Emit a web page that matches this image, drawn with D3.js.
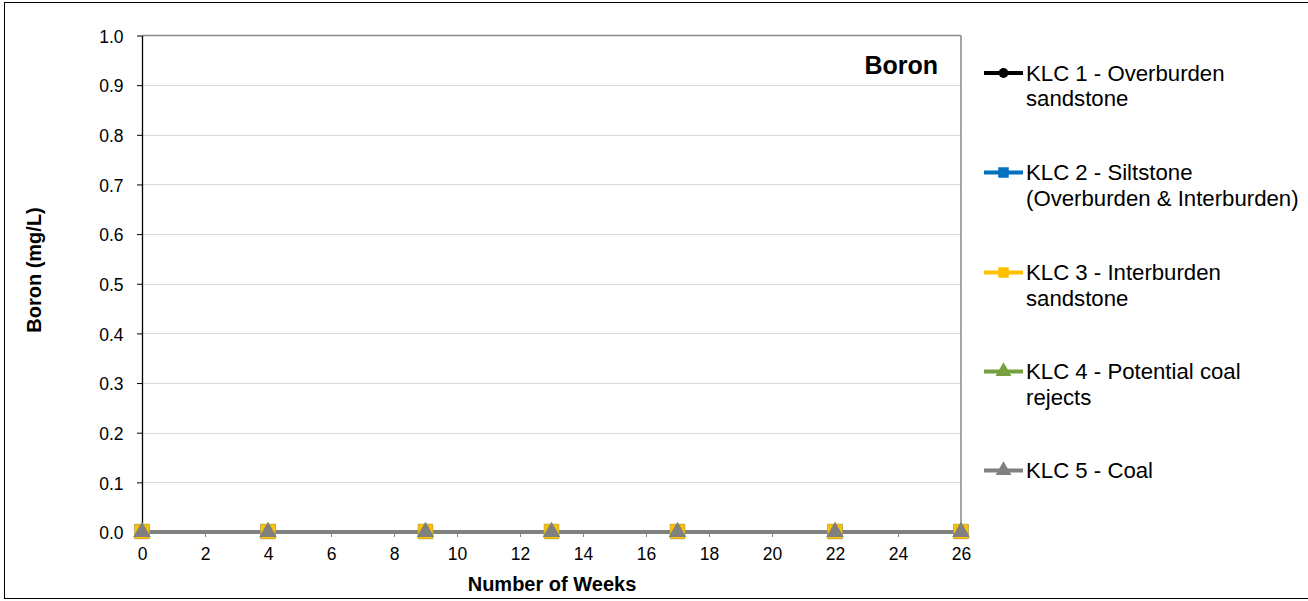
<!DOCTYPE html>
<html><head><meta charset="utf-8">
<script src="https://cdn.jsdelivr.net/npm/d3@7"></script>
<style>body{margin:0;background:#fff}svg{display:block;font-family:"Liberation Sans",Arial,sans-serif}</style>
</head><body><svg id="c" width="1308" height="601"></svg>
<script>
const weeks = [0, 4, 9, 13, 17, 22, 26];
const seriesNames = ["KLC 1 - Overburden sandstone","KLC 2 - Siltstone (Overburden & Interburden)","KLC 3 - Interburden sandstone","KLC 4 - Potential coal rejects","KLC 5 - Coal"];
const legendLines = [["KLC 1 - Overburden","sandstone"],["KLC 2 - Siltstone","(Overburden & Interburden)"],["KLC 3 - Interburden","sandstone"],["KLC 4 - Potential coal","rejects"],["KLC 5 - Coal"]];
const klc1 = [0, 0, 0, 0, 0, 0, 0];
const klc2 = [0, 0, 0, 0, 0, 0, 0];
const klc3 = [0, 0, 0, 0, 0, 0, 0];
const klc4 = [0, 0, 0, 0, 0, 0, 0];
const klc5 = [0, 0, 0, 0, 0, 0, 0];
const colors = ["#000000","#0070C0","#FFC000","#77A040","#808080"];
const markers = ["circle","square","square","triangle","triangle"];
const xTicks = [0,2,4,6,8,10,12,14,16,18,20,22,24,26];
const yTicks = [0,0.1,0.2,0.3,0.4,0.5,0.6,0.7,0.8,0.9,1.0];
const allSeries = [klc1,klc2,klc3,klc4,klc5];

const svg = d3.select("#c");
const L=142, R=961, T=35.5, B=532;
const x = d3.scaleLinear().domain([0,26]).range([L,R]);
const y = d3.scaleLinear().domain([0,1]).range([B,T]);

svg.append("rect").attr("x",4.5).attr("y",2.5).attr("width",1310).attr("height",596).attr("fill","none").attr("stroke","#000").attr("stroke-width",1);

// gridlines
svg.append("g").selectAll("line").data(yTicks.filter(d=>d>0&&d<1)).join("line")
  .attr("x1",L).attr("x2",R).attr("y1",d=>Math.round(y(d))+0.5).attr("y2",d=>Math.round(y(d))+0.5)
  .attr("stroke","#d9d9d9").attr("stroke-width",1);
// top & right border
svg.append("line").attr("x1",L).attr("x2",R).attr("y1",T).attr("y2",T).attr("stroke","#868686").attr("stroke-width",1.5);
svg.append("line").attr("x1",R).attr("x2",R).attr("y1",T).attr("y2",B).attr("stroke","#868686").attr("stroke-width",1.5);

// y axis
const ya = svg.append("g").attr("transform",`translate(${L},0)`)
  .call(d3.axisLeft(y).tickValues(yTicks).tickFormat(d3.format(".1f")).tickSize(5).tickSizeOuter(0));
ya.select(".domain").attr("stroke","#000").attr("stroke-width",1.3);
ya.selectAll(".tick line").attr("stroke","#000");
ya.selectAll("text").attr("font-size",17.5).attr("fill","#000").attr("x",-18.5).attr("dy","0.38em");

// x axis
const xa = svg.append("g").attr("transform",`translate(0,${B})`)
  .call(d3.axisBottom(x).tickValues(xTicks).tickSize(5).tickSizeOuter(0));
xa.select(".domain").attr("stroke","#868686").attr("stroke-width",1.3);
xa.selectAll(".tick line").attr("stroke","#868686");
xa.selectAll("text").attr("font-size",17.5).attr("fill","#000").attr("y",28).attr("dy",0);

// series
const line = d3.line().x((d,i)=>x(weeks[i])).y(d=>y(d));
const sym = {circle:d3.symbolCircle, square:d3.symbolSquare, triangle:d3.symbolTriangle};
const size = {circle:80, square:220, triangle:130};
allSeries.forEach((s,k)=>{
  svg.append("path").datum(s).attr("d",line).attr("fill","none").attr("stroke",colors[k]).attr("stroke-width",4);
});
allSeries.forEach((s,k)=>{
  svg.append("g").selectAll("path").data(s).join("path")
    .attr("transform",(d,i)=>`translate(${x(weeks[i])},${y(d)+(markers[k]==="triangle"?0:-0.5)})`)
    .attr("d",d3.symbol().type(sym[markers[k]]).size(size[markers[k]]))
    .attr("fill",colors[k]).attr("stroke",k===2?"#c0a848":"none").attr("stroke-width",0.6);
});

// title
svg.append("text").attr("x",938).attr("y",73.5).attr("text-anchor","end").attr("font-size",25).attr("font-weight","bold").text("Boron");

// axis titles
svg.append("text").attr("x",552).attr("y",591).attr("text-anchor","middle").attr("font-size",20).attr("font-weight","bold").text("Number of Weeks");
svg.append("text").attr("transform","translate(41,270) rotate(-90)").attr("text-anchor","middle").attr("font-size",20).attr("font-weight","bold").text("Boron (mg/L)");

// legend
const ly = [73,172.5,272.5,371.5,470.5];
const lsize = {circle:75, square:110, triangle:110};
legendLines.forEach((lines,k)=>{
  const g = svg.append("g").attr("transform",`translate(0,${ly[k]})`);
  g.append("line").attr("x1",984).attr("x2",1023).attr("y1",0).attr("y2",0).attr("stroke",colors[k]).attr("stroke-width",4);
  g.append("path").attr("transform",`translate(1003.5,0)`)
    .attr("d",d3.symbol().type(sym[markers[k]]).size(lsize[markers[k]])).attr("fill",colors[k]);
  lines.forEach((t,j)=>{
    g.append("text").attr("x",1026).attr("y",j*25.5+7.5).attr("font-size",22.2).attr("fill","#000").text(t);
  });
});
</script></body></html>
